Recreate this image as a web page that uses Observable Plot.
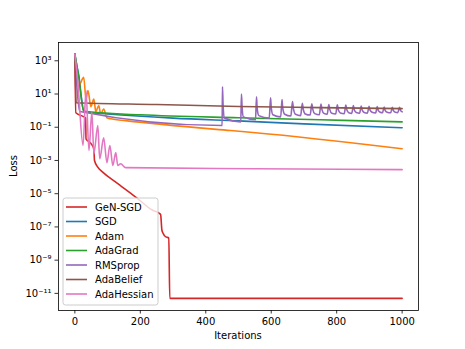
<!DOCTYPE html>
<html>
<head>
<meta charset="utf-8">
<script src="https://cdn.jsdelivr.net/npm/d3@7"></script>
<script src="https://cdn.jsdelivr.net/npm/@observablehq/plot@0.6"></script>
<style>
  html, body { margin: 0; padding: 0; background: white; }
  #chart { width: 465px; height: 349px; }
</style>
</head>
<body>
<div id="chart"></div>
<script>
const methods = ["GeN-SGD", "SGD", "Adam", "AdaGrad", "RMSprop", "AdaBelief", "AdaHessian"];
const colors = ["#d62728", "#1f77b4", "#ff7f0e", "#2ca02c", "#9467bd", "#8c564b", "#e377c2"];

const xTicks = [0, 200, 400, 600, 800, 1000];
const xTickLabels = ["0", "200", "400", "600", "800", "1000"];
const yTicks = [1e3, 1e1, 1e-1, 1e-3, 1e-5, 1e-7, 1e-9, 1e-11];
const yTickLabels = ["10³", "10¹", "10⁻¹", "10⁻³", "10⁻⁵", "10⁻⁷", "10⁻⁹", "10⁻¹¹"];

// GeN-SGD
const genIter = [0, 3, 25, 33, 34, 50, 58, 60, 70, 85, 125, 186, 238, 256, 262, 266, 270, 278, 287, 290, 1000];
const genLoss = [2500, 0.74, 0.45, 0.355, 0.02, 0.01, 0.005, 0.001, 0.0004, 0.0002, 5e-5, 6.3e-6, 1e-6, 7e-7, 5.6e-7, 6.3e-8, 4e-8, 2.5e-8, 2.2e-8, 5e-12, 5e-12];

// SGD
const sgdIter = [0, 6, 12, 20, 27, 40, 100, 300, 500, 700, 1000];
const sgdLoss = [2500, 500, 126, 6, 1.0, 0.79, 0.63, 0.355, 0.24, 0.16, 0.093];

// Adam
const adamIter = [0, 12, 27, 34, 40, 49, 58, 64, 73, 79, 88, 98, 110, 155, 476, 552, 1000];
const adamLoss = [2500, 32, 100, 5.0, 16, 1.74, 5.0, 0.87, 2.0, 0.63, 1.26, 0.37, 0.32, 0.25, 0.063, 0.047, 0.0051];

// AdaGrad
const adagradIter = [0, 12, 27, 200, 500, 750, 1000];
const adagradLoss = [2500, 100, 0.9, 0.56, 0.37, 0.28, 0.21];

// RMSprop
const rmsIter = [0, 8, 15, 450,
  451, 453, 457, 507,
  509, 511, 515, 552,
  555, 557, 562, 594,
  598, 600, 605, 629,
  633, 635, 641, 660,
  665, 668, 674, 690,
  695, 698, 704, 719,
  724, 727, 733, 747,
  752, 755, 761, 771,
  776, 779, 785, 797,
  802, 805, 811, 823,
  828, 831, 837, 846,
  851, 854, 860, 870,
  875, 878, 884, 894,
  899, 902, 908, 919,
  924, 927, 933, 940,
  945, 948, 954, 965,
  970, 973, 979, 987,
  992, 995, 1000];
const rmsLoss = [2500, 10, 0.89, 0.126,
  27.5, 2.0, 0.355, 0.21,
  10, 1.6, 0.42, 0.28,
  6.9, 1.4, 0.50, 0.355,
  6.0, 1.6, 0.56, 0.42,
  4.6, 1.5, 0.60, 0.47,
  3.5, 1.26, 0.60, 0.50,
  2.8, 1.2, 0.63, 0.54,
  2.6, 1.2, 0.66, 0.56,
  2.5, 1.15, 0.68, 0.60,
  2.3, 1.15, 0.70, 0.63,
  2.24, 1.12, 0.72, 0.65,
  2.14, 1.12, 0.74, 0.68,
  2.0, 1.1, 0.76, 0.69,
  1.9, 1.1, 0.78, 0.71,
  1.82, 1.07, 0.80, 0.72,
  1.74, 1.05, 0.80, 0.74,
  1.66, 1.05, 0.80, 0.74,
  1.58, 1.02, 0.80, 0.76,
  1.58, 1.05, 0.85];

// AdaBelief
const beliefIter = [0, 4, 250, 500, 750, 1000];
const beliefLoss = [2500, 3.0, 2.35, 1.78, 1.51, 1.32];

// AdaHessian
const hessIter = [0, 9, 25, 34, 43, 52, 58, 70, 76, 88, 98, 107, 116, 125, 131, 140, 155, 550, 1000];
const hessLoss = [2500, 55, 0.008, 16, 0.004, 0.79, 0.0025, 0.126, 0.00126, 0.023, 0.00074, 0.008, 0.0005, 0.003, 0.0005, 0.00063, 0.00037, 0.00032, 0.00028];

const series = [
  [genIter, genLoss], [sgdIter, sgdLoss], [adamIter, adamLoss], [adagradIter, adagradLoss],
  [rmsIter, rmsLoss], [beliefIter, beliefLoss], [hessIter, hessLoss]
];
const rows = series.flatMap(([it, ls], k) => it.map((v, j) => ({method: methods[k], iter: v, loss: ls[j]})));

const chart = Plot.plot({
  width: 465,
  height: 349,
  marginLeft: 58,
  marginRight: 47,
  marginTop: 42,
  marginBottom: 39,
  style: {fontFamily: "DejaVu Sans", fontSize: "10px", color: "black", background: "white", overflow: "visible"},
  x: {domain: [-50, 1050]},
  y: {type: "log", domain: [Math.pow(10, -12.03), Math.pow(10, 4.1)]},
  color: {domain: methods, range: colors},
  marks: [
    Plot.line(rows, {x: "iter", y: "loss", z: "method", stroke: "method", strokeWidth: 1.6, curve: "monotone-x"}),
    Plot.frame({stroke: "black", strokeWidth: 0.8}),
    Plot.axisX({ticks: xTicks, tickSize: 3.5, tickPadding: 3.5, label: null, tickFormat: d => xTickLabels[xTicks.indexOf(d)], stroke: "black", strokeWidth: 0.8}),
    Plot.axisY({ticks: yTicks, tickSize: 3.5, tickPadding: 3.5, label: null, tickFormat: d => yTickLabels[yTicks.indexOf(d)], stroke: "black", strokeWidth: 0.8})
  ]
});
document.getElementById("chart").appendChild(chart);

const svg = d3.select(chart);
svg.append("text").attr("x", 238).attr("y", 339).attr("text-anchor", "middle")
  .attr("font-family", "DejaVu Sans").attr("font-size", 10).attr("fill", "black").text("Iterations");
svg.append("text").attr("transform", "translate(17,166) rotate(-90)").attr("text-anchor", "middle")
  .attr("font-family", "DejaVu Sans").attr("font-size", 10).attr("fill", "black").text("Loss");

const lg = svg.append("g");
lg.append("rect").attr("x", 63).attr("y", 198).attr("width", 95).attr("height", 107).attr("rx", 2.5)
  .attr("fill", "white").attr("fill-opacity", 0.8).attr("stroke", "#cccccc").attr("stroke-width", 1);
methods.forEach((m, k) => {
  const cy = 207 + k * 14.5;
  lg.append("line").attr("x1", 66).attr("x2", 87).attr("y1", cy).attr("y2", cy)
    .attr("stroke", colors[k]).attr("stroke-width", 1.6);
  lg.append("text").attr("x", 95).attr("y", cy).attr("dy", "0.35em").attr("text-anchor", "start")
    .attr("font-family", "DejaVu Sans").attr("font-size", 10).attr("fill", "black").text(m);
});
</script>
</body>
</html>
